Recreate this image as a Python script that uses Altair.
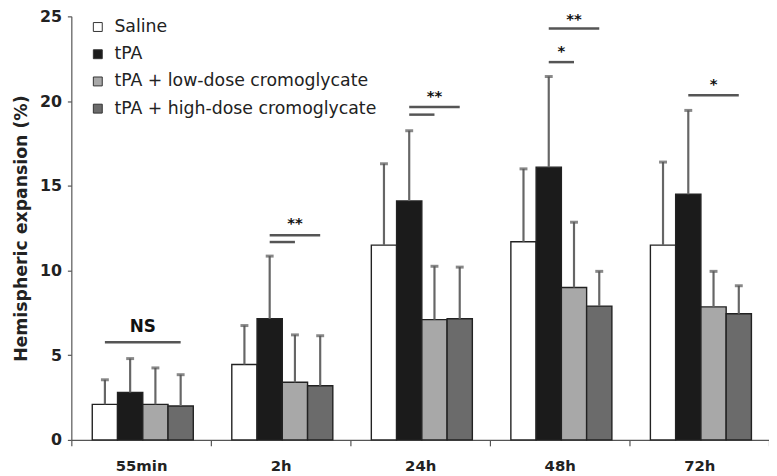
import json
import altair as alt
import pandas as pd

# ---------------- data ----------------
categories = ["55min", "2h", "24h", "48h", "72h"]
groups = ["Saline", "tPA", "tPA + low-dose cromoglycate", "tPA + high-dose cromoglycate"]

saline_mean = [2.1, 4.45, 11.5, 11.7, 11.5]
saline_sd = [1.45, 2.3, 4.8, 4.3, 4.9]
tpa_mean = [2.8, 7.15, 14.1, 16.1, 14.5]
tpa_sd = [2.0, 3.7, 4.15, 5.35, 4.95]
low_mean = [2.1, 3.4, 7.1, 9.0, 7.85]
low_sd = [2.15, 2.8, 3.15, 3.85, 2.1]
high_mean = [2.0, 3.2, 7.15, 7.9, 7.45]
high_sd = [1.85, 2.95, 3.05, 2.05, 1.65]

# significance brackets: category, from group, to group, level
sig_cat = ["55min", "2h", "2h", "24h", "24h", "48h", "48h", "72h"]
sig_from = [0, 1, 1, 1, 1, 1, 1, 1]
sig_to = [3, 3, 2, 3, 2, 2, 3, 3]
sig_y = [5.76, 12.08, 11.68, 19.65, 19.2, 22.3, 24.29, 20.35]

# significance labels
lab_cat = ["55min", "2h", "24h", "48h", "48h", "72h"]
lab_text = ["NS", "**", "**", "*", "**", "*"]
lab_from = [0, 1, 1, 1, 1, 1]
lab_to = [3, 3, 3, 2, 3, 3]
lab_y = [6.67, 13.0, 20.5, 23.1, 25.0, 21.2]

colors = ["#ffffff", "#1b1b1b", "#a8a8a8", "#6b6b6b"]

# ---------------- tables ----------------
means = [saline_mean, tpa_mean, low_mean, high_mean]
sds = [saline_sd, tpa_sd, low_sd, high_sd]
rows = []
for gi, g in enumerate(groups):
    for ci, c in enumerate(categories):
        rows.append({"cat": c, "ci": ci, "group": g, "gi": gi,
                     "mean": means[gi][ci], "top": means[gi][ci] + sds[gi][ci]})
bars_df = pd.DataFrame(rows)

sig_df = pd.DataFrame({"cat": sig_cat, "ga": sig_from, "gb": sig_to, "y": sig_y})
sig_df["ci"] = sig_df["cat"].map({c: i for i, c in enumerate(categories)})
lab_df = pd.DataFrame({"cat": lab_cat, "text": lab_text, "ga": lab_from,
                       "gb": lab_to, "y": lab_y})
lab_df["ci"] = lab_df["cat"].map({c: i for i, c in enumerate(categories)})

W = 0.181   # bar width in category units
C = 0.512   # group centre within each category band

xscale = alt.Scale(domain=[0, 5], nice=False, zero=False)
yscale = alt.Scale(domain=[0, 25], nice=False)

cat_arr = json.dumps(categories)
xaxis = alt.Axis(
    values=[i * 0.5 for i in range(11)],
    labelExpr=f"(datum.value % 1) == 0.5 ? {cat_arr}[floor(datum.value)] : ''",
    tickOpacity=alt.condition("(datum.value % 1) == 0", alt.value(1), alt.value(0)),
    title=None, grid=False, tickSize=6, labelPadding=13, labelFlush=False,
    labelOverlap=False, labelFont="DejaVu Sans", labelFontWeight="bold",
    labelFontSize=15, labelColor="#222", domainColor="#555", tickColor="#555",
    domainWidth=1.2, tickWidth=1.2,
)
yaxis = alt.Axis(
    values=[0, 5, 10, 15, 20, 25], title="Hemispheric expansion (%)", grid=False,
    tickSize=4, labelPadding=6, labelFont="DejaVu Sans", labelFontWeight="bold",
    labelFontSize=16, labelColor="#222", titleFont="DejaVu Sans",
    titleFontWeight="bold", titleFontSize=17.5, titleColor="#222", titlePadding=9,
    domainColor="#555", tickColor="#555", domainWidth=1.2, tickWidth=1.2,
)

base = alt.Chart(bars_df).transform_calculate(
    xc=f"datum.ci + {C} + (datum.gi - 1.5) * {W}",
).transform_calculate(
    x1=f"datum.xc - {W / 2}", x2=f"datum.xc + {W / 2}",
)

bars = base.mark_bar(stroke="#222", strokeWidth=1.4).encode(
    x=alt.X("x1:Q", scale=xscale, axis=xaxis),
    x2="x2:Q",
    y=alt.Y("mean:Q", scale=yscale, axis=yaxis),
    y2=alt.datum(0),
    color=alt.Color(
        "group:N",
        scale=alt.Scale(domain=groups, range=colors),
        legend=alt.Legend(
            orient="none", legendX=18, legendY=2, title=None, symbolType="square",
            symbolSize=81, symbolStrokeColor="#333", symbolStrokeWidth=1,
            labelFont="DejaVu Sans", labelFontSize=17.5, labelColor="#222",
            rowPadding=8.5, labelOffset=8, padding=0, labelLimit=400,
        ),
    ),
)

err = base.mark_rule(color="#666", strokeWidth=2.2).encode(
    x="xc:Q", y="mean:Q", y2="top:Q"
)
caps = base.mark_tick(orient="horizontal", size=8, thickness=3, color="#555").encode(
    x="xc:Q", y="top:Q"
)

sig = alt.Chart(sig_df).transform_calculate(
    xa=f"datum.ci + {C} + (datum.ga - 1.5) * {W}",
    xb=f"datum.ci + {C} + (datum.gb - 1.5) * {W}",
).mark_rule(color="#555", strokeWidth=2.5).encode(
    x="xa:Q", x2="xb:Q", y="y:Q"
)

lab_base = alt.Chart(lab_df).transform_calculate(
    xm=f"datum.ci + {C} + ((datum.ga + datum.gb) / 2 - 1.5) * {W}",
)
ns_text = lab_base.transform_filter("datum.text == 'NS'").mark_text(
    font="DejaVu Sans", fontWeight="bold", fontSize=17, color="#111", baseline="middle"
).encode(x="xm:Q", y="y:Q", text="text:N")
star_text = lab_base.transform_filter("datum.text != 'NS'").mark_text(
    font="DejaVu Sans", fontWeight="bold", fontSize=15, color="#111",
    baseline="middle", dy=3
).encode(x="xm:Q", y="y:Q", text="text:N")

chart = alt.layer(bars, err, caps, sig, ns_text, star_text).properties(
    width=705, height=428,
    padding={"left": 64, "top": 6, "right": 0, "bottom": 34},
    autosize="none",
).configure_view(stroke=None)

chart.save("out.html", embed_options={"renderer": "svg", "actions": False})
